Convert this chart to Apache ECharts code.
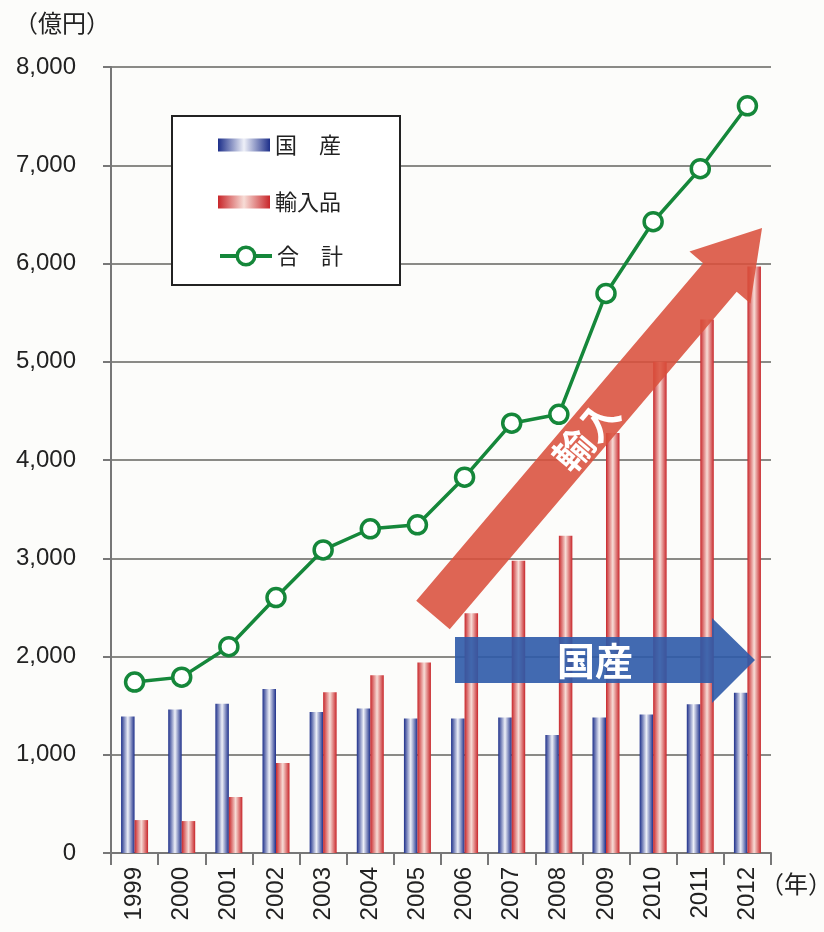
<!DOCTYPE html>
<html>
<head>
<meta charset="utf-8">
<script src="https://cdn.jsdelivr.net/npm/echarts@6/dist/echarts.min.js"></script>
<style>
html,body{margin:0;padding:0;background:#fcfcfa;}
#c{width:824px;height:932px;}
</style>
</head>
<body>
<div id="c"></div>
<script>
const years = ['1999','2000','2001','2002','2003','2004','2005','2006','2007','2008','2009','2010','2011','2012'];
const domestic = [1390, 1460, 1520, 1670, 1435, 1470, 1370, 1370, 1380, 1200, 1380, 1410, 1515, 1630];
const imported = [335, 325, 570, 915, 1635, 1810, 1940, 2440, 2975, 3230, 4275, 5000, 5430, 5970];
const total = [1740, 1790, 2100, 2600, 3085, 3300, 3340, 3825, 4375, 4465, 5695, 6425, 6965, 7605];
const yTicks = [0, 1000, 2000, 3000, 4000, 5000, 6000, 7000, 8000];

const chart = echarts.init(document.getElementById('c'));
const font = '"Liberation Sans", Arial, sans-serif';
const cjk = '"Noto Sans CJK JP", sans-serif';
const green = '#15873a';

const blueGrad = new echarts.graphic.LinearGradient(0, 0, 1, 0, [
  {offset: 0, color: '#1d2f8a'},
  {offset: 0.5, color: '#eef0f8'},
  {offset: 1, color: '#1d2f8a'}
]);
const redGrad = new echarts.graphic.LinearGradient(0, 0, 1, 0, [
  {offset: 0, color: '#c8262a'},
  {offset: 0.5, color: '#f7dcd6'},
  {offset: 1, color: '#c8262a'}
]);

const arrowL = 508, headL = 65;
const legendText = {fontFamily: cjk, fontSize: 22, color: '#222'};
chart.setOption({
  backgroundColor: '#fcfcfa',
  animation: false,
  grid: {left: 111, right: 53, top: 67, bottom: 79, containLabel: false},
  legend: [
    {
      orient: 'vertical',
      left: 218, top: 134,
      padding: 0,
      itemGap: 35,
      itemWidth: 52, itemHeight: 13,
      textStyle: legendText,
      data: [
        {name: '国　産', icon: 'rect'},
        {name: '輸入品', icon: 'rect'}
      ]
    },
    {
      orient: 'vertical',
      left: 218, top: 245,
      padding: 0,
      itemWidth: 52, itemHeight: 22,
      textStyle: legendText,
      itemStyle: {color: '#ffffff', borderColor: green, borderWidth: 3.5},
      lineStyle: {color: green, width: 4},
      data: [{name: '合　計'}]
    }
  ],
  xAxis: {
    type: 'category',
    data: years,
    axisLine: {lineStyle: {color: '#777', width: 2}},
    axisTick: {show: true, length: 12, lineStyle: {color: '#777', width: 2}},
    axisLabel: {rotate: 90, margin: 14, fontFamily: font, fontSize: 24, color: '#222'}
  },
  yAxis: {
    type: 'value',
    min: 0, max: 8000, interval: 1000,
    axisLine: {show: true, lineStyle: {color: '#777', width: 2}},
    axisTick: {show: true, length: 8, lineStyle: {color: '#777', width: 2}},
    axisLabel: {
      margin: 35, fontFamily: font, fontSize: 24, color: '#222',
      formatter: v => yTicks.includes(v) ? v.toLocaleString('en-US') : ''
    },
    splitLine: {lineStyle: {color: '#8a8a86', width: 2}}
  },
  series: [
    {
      name: '国　産', type: 'bar', data: domestic, barWidth: 13.5, barGap: '0%',
      itemStyle: {color: blueGrad}, z: 2
    },
    {
      name: '輸入品', type: 'bar', data: imported, barWidth: 13.5, barGap: '0%',
      itemStyle: {color: redGrad}, z: 2
    },
    {
      name: '合　計', type: 'line', data: total, z: 10,
      symbol: 'circle', symbolSize: 18,
      lineStyle: {color: green, width: 3.5},
      itemStyle: {color: '#ffffff', borderColor: green, borderWidth: 3.5}
    }
  ],
  graphic: [
    {
      type: 'rect', z: 3,
      shape: {x: 172, y: 116, width: 228, height: 169},
      style: {fill: '#ffffff', stroke: '#222', lineWidth: 2}
    },
    {
      type: 'text', left: 14, top: 11, z: 20,
      style: {text: '（億円）', fontFamily: cjk, fontSize: 24, fill: '#222'}
    },
    {
      type: 'text', left: 760, top: 872, z: 20,
      style: {text: '（年）', fontFamily: cjk, fontSize: 24, fill: '#222'}
    },
    {
      type: 'group', x: 433, y: 615, rotation: Math.atan2(387, 329), z: 5,
      children: [
        {
          type: 'polygon', z: 5,
          shape: {points: [[0,-22],[arrowL-headL,-22],[arrowL-headL,-40],[arrowL,0],[arrowL-headL,40],[arrowL-headL,22],[0,22]]},
          style: {fill: '#d9503c', opacity: 0.88}
        },
        {
          type: 'text', x: 236, y: 0, z: 6,
          style: {text: '輸入', fontFamily: cjk, fontSize: 39, fontWeight: 'bold', fill: '#ffffff', align: 'center', verticalAlign: 'middle'}
        }
      ]
    },
    {
      type: 'polygon', z: 5,
      shape: {points: [[455,637],[712,637],[712,618],[755,660],[712,703],[712,683],[455,683]]},
      style: {fill: '#2d5aa8', opacity: 0.9}
    },
    {
      type: 'text', x: 595, y: 661, z: 6,
      style: {text: '国産', fontFamily: cjk, fontSize: 38, fontWeight: 'bold', fill: '#ffffff', align: 'center', verticalAlign: 'middle'}
    }
  ]
});
</script>
</body>
</html>
